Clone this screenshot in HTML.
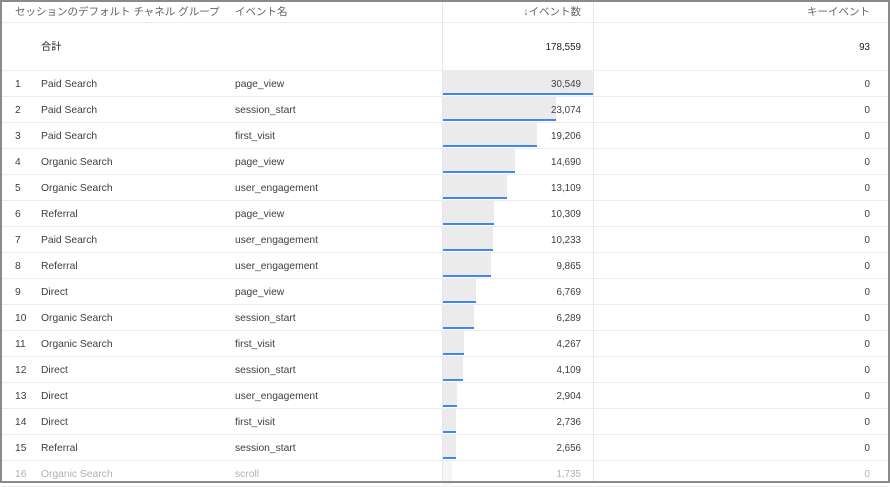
<!DOCTYPE html>
<html><head><meta charset="utf-8"><style>
body{margin:0;width:890px;height:483px;overflow:hidden;background:#fff;font-family:"Liberation Sans","Noto Sans CJK JP",sans-serif;font-size:10.3px;color:#3c4043;position:relative}
.frame{position:absolute;left:0;top:0;width:886px;height:479px;border:2px solid #8a8a8a}
.t{position:absolute;white-space:nowrap;line-height:14px}
.r{text-align:right}
.h{color:#5f6368;font-size:10.5px}
.hl{position:absolute;height:1px;background:#ececec;left:2px;width:886px}
.vl{position:absolute;width:1px;background:#e6e6e6;top:2px;height:479px}
.bar{position:absolute;left:443px;background:#ebebeb;height:24px}
.bar i{position:absolute;left:0;right:0;bottom:0;height:2px;background:#4285f4}
.n{font-size:9.8px}
</style></head><body>
<div class="vl" style="left:442px"></div>
<div class="vl" style="left:593px"></div>
<div class="hl" style="top:22px"></div>
<div class="hl" style="top:70px"></div>
<div class="t h" style="left:15px;top:5px">セッションのデフォルト チャネル グループ</div>
<div class="t h" style="left:235px;top:5px">イベント名</div>
<div class="t h r" style="right:309px;top:5px">↓イベント数</div>
<div class="t h r" style="right:20px;top:5px">キーイベント</div>
<div class="t" style="left:41px;top:41px;color:#202124">合計</div>
<div class="t r n" style="right:309px;top:41px;color:#202124">178,559</div>
<div class="t r n" style="right:20px;top:41px;color:#202124">93</div>
<div id="rows"></div>
<div class="frame"></div>
<script>
var d=[["Paid Search","page_view",30549],["Paid Search","session_start",23074],["Paid Search","first_visit",19206],["Organic Search","page_view",14690],["Organic Search","user_engagement",13109],["Referral","page_view",10309],["Paid Search","user_engagement",10233],["Referral","user_engagement",9865],["Direct","page_view",6769],["Organic Search","session_start",6289],["Organic Search","first_visit",4267],["Direct","session_start",4109],["Direct","user_engagement",2904],["Direct","first_visit",2736],["Referral","session_start",2656],["Organic Search","scroll",1735]];
var h="";
d.forEach(function(r,i){var top=71+26*i,ty=top+7,w=Math.round(r[2]/30549*150);
var op=i==15?"opacity:.45;":"";
h+='<div class="bar" style="top:'+top+'px;width:'+w+'px;'+op+'">'+(i<15?'<i></i>':'')+'</div>';
h+='<div class="hl" style="top:'+(top+25)+'px"></div>';
var c=i==15?"color:#b0b0b0;":"";
h+='<div class="t" style="left:15px;top:'+ty+'px;'+c+'">'+(i+1)+'</div>';
h+='<div class="t" style="left:41px;top:'+ty+'px;'+c+'">'+r[0]+'</div>';
h+='<div class="t" style="left:235px;top:'+ty+'px;'+c+'">'+r[1]+'</div>';
h+='<div class="t r n" style="right:309px;top:'+ty+'px;'+c+'">'+r[2].toLocaleString("en-US")+'</div>';
h+='<div class="t r n" style="right:20px;top:'+ty+'px;'+c+'">0</div>';});
document.getElementById("rows").innerHTML=h;
</script>
</body></html>
